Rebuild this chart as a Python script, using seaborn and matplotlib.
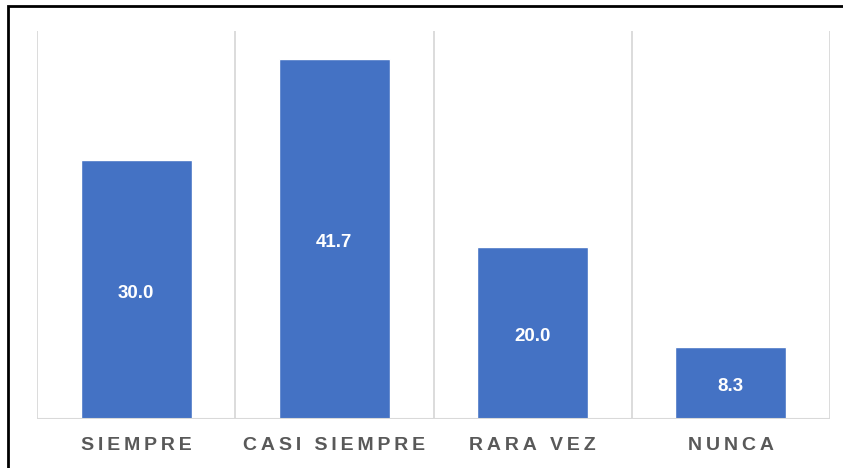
import matplotlib.pyplot as plt
import pandas as pd
import seaborn as sns
from matplotlib.patches import Rectangle

categories = ['SIEMPRE', 'CASI SIEMPRE', 'RARA VEZ', 'NUNCA']
values = [30.0, 41.7, 20.0, 8.3]

df = pd.DataFrame({'cat': categories, 'val': values})

sns.set_style('white')
plt.rcParams['font.family'] = ['Liberation Sans', 'DejaVu Sans']

fig = plt.figure(figsize=(8.43, 4.68), dpi=100)
ax = fig.add_axes([37 / 843, 1 - 419 / 468, (830 - 37) / 843, (419 - 31) / 468])

sns.barplot(data=df, x='cat', y='val', color='#4472C4', saturation=1, width=0.56, ax=ax)

for i, v in enumerate(values):
    ax.text(i, v / 2 - 0.4, f'{v:.1f}', ha='center', va='center', color='white',
            fontsize=13.5, fontweight='bold')

ax.set_xlim(-0.5, 3.5)
ax.set_ylim(0, 45)
for x in [-0.5, 0.5, 1.5, 2.5, 3.5]:
    ax.axvline(x, color='#d9d9d9', lw=1.3, zorder=0)
ax.axhline(0, color='#d9d9d9', lw=1.5, zorder=3)
for s in ax.spines.values():
    s.set_visible(False)
ax.set_yticks([])
ax.set_xlabel('')
ax.set_ylabel('')
ax.tick_params(axis='x', length=0, pad=13)
# letter-spaced tick labels (thin spaces between letters)
ax.set_xticks(range(len(categories)))
ax.set_xticklabels(['\u2009'.join(c) for c in categories], fontsize=14,
                   fontweight='bold', color='#595959')

# outer black frame
fig.patches.append(Rectangle((8 / 843, -0.1), 1.2, 1.1 - 6 / 468,
                             transform=fig.transFigure, fill=False,
                             edgecolor='black', lw=2, clip_on=False))

fig.savefig('out.png', dpi=100)
